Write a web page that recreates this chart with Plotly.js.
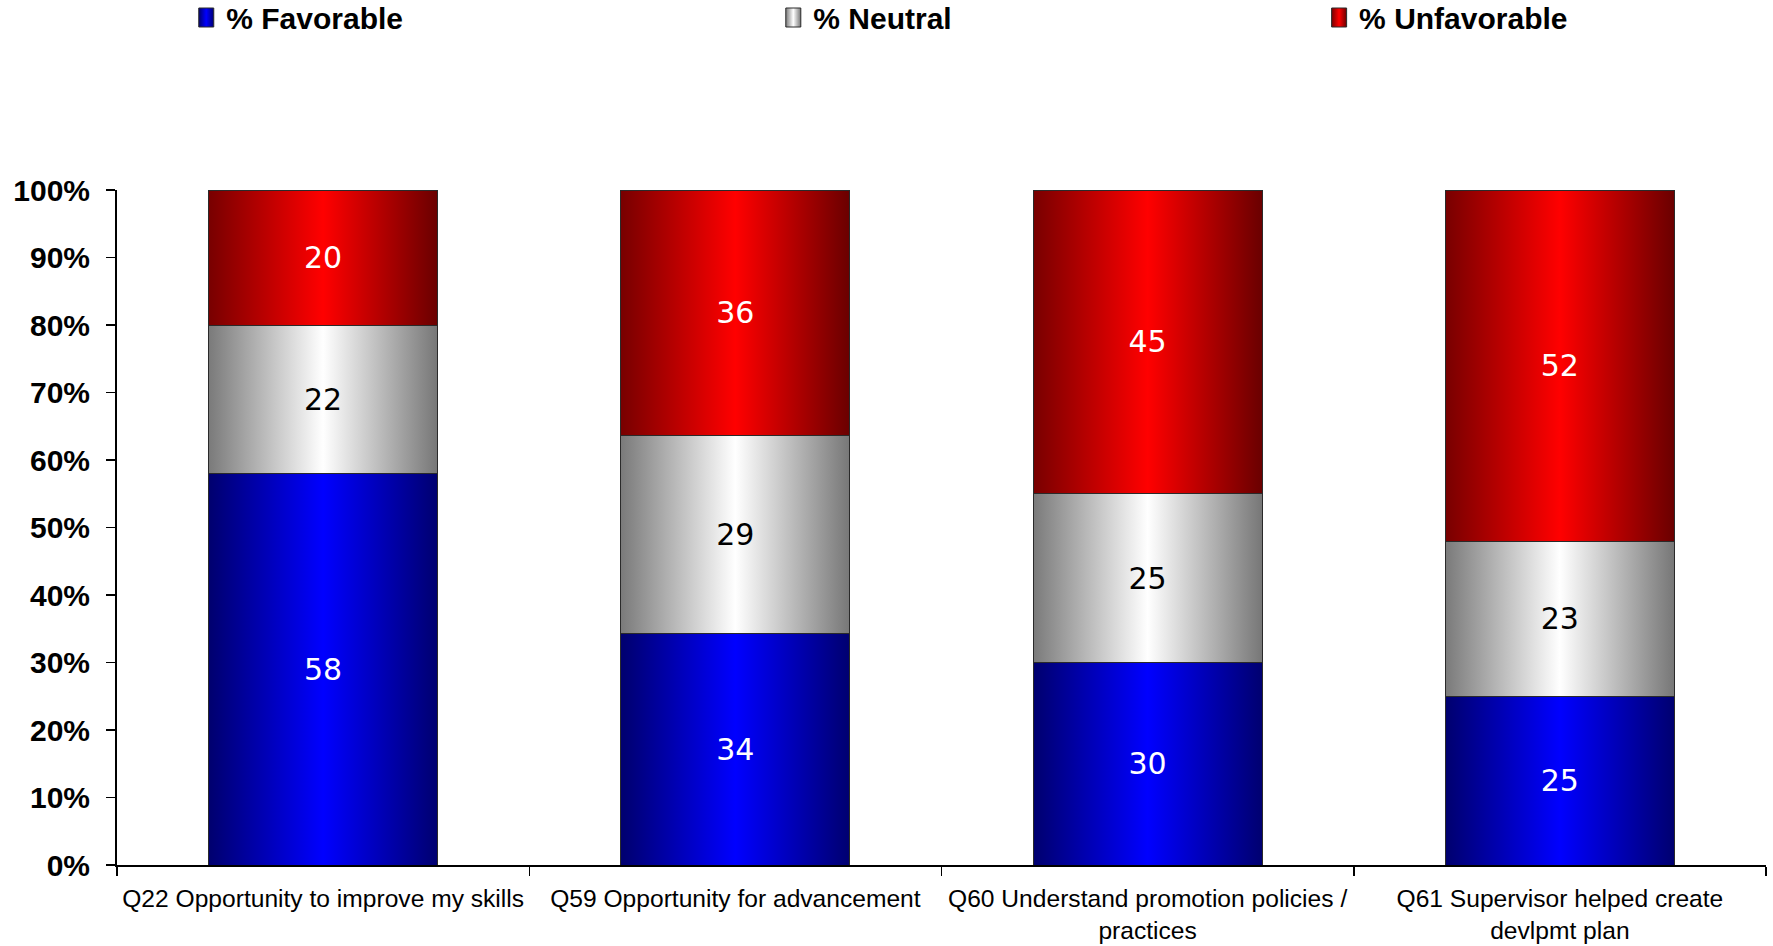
<!DOCTYPE html>
<html>
<head>
<meta charset="utf-8">
<script src="https://cdn.plot.ly/plotly-3.0.1.min.js"></script>
<style>
  html, body { margin: 0; padding: 0; background: #ffffff; }
  #chart { width: 1773px; height: 946px; }
</style>
</head>
<body>
<div id="chart"></div>
<script>
// Survey items and response shares
const questions = [
  'Q22 Opportunity to improve my skills',
  'Q59 Opportunity for advancement',
  'Q60 Understand promotion policies /<br>practices',
  'Q61 Supervisor helped create<br>devlpmt plan'
];
const favorable   = [58, 34, 30, 25];
const neutral     = [22, 29, 25, 23];
const unfavorable = [20, 36, 45, 52];
const seriesNames = ['% Favorable', '% Neutral', '% Unfavorable'];
const yTickVals   = [0, 10, 20, 30, 40, 50, 60, 70, 80, 90, 100];
const yTickText   = yTickVals.map(v => v + '%');

// Horizontal "cylinder" shading for each series: [offset, colour]
const shading = [
  { id: 'grad-fav',   stops: [[0, '#00006e'], [0.5, '#0000ff'], [1, '#000070']] },
  { id: 'grad-neu',   stops: [[0, '#7a7a7a'], [0.5, '#ffffff'], [1, '#777777']] },
  { id: 'grad-unfav', stops: [[0, '#780000'], [0.5, '#ff0000'], [1, '#6a0000']] }
];

const baseColors = ['#0000ff', '#d8d8d8', '#ff0000'];
const labelColors = ['#ffffff', '#000000', '#ffffff'];
const legendIds = ['legend', 'legend2', 'legend3'];
const seriesValues = [favorable, neutral, unfavorable];

const traces = seriesValues.map((vals, i) => ({
  type: 'bar',
  name: seriesNames[i],
  x: questions,
  y: vals,
  text: vals.map(String),
  textposition: 'inside',
  insidetextanchor: 'middle',
  textangle: 0,
  insidetextfont: { family: 'DejaVu Sans', size: 30, color: labelColors[i] },
  marker: { color: baseColors[i], line: { color: '#2a2a2a', width: 1 } },
  legend: legendIds[i],
  hoverinfo: 'skip'
}));

const legendFont = { family: 'Liberation Sans', size: 30, weight: 'bold', color: '#000000' };
const legendY = 1 + 172.5 / 675;
function legendAt(x) {
  return {
    x: x, y: legendY, xanchor: 'left', yanchor: 'middle',
    orientation: 'h', font: legendFont, bgcolor: 'rgba(0,0,0,0)',
    borderwidth: 0, itemclick: false, itemdoubleclick: false
  };
}

const layout = {
  width: 1773,
  height: 946,
  paper_bgcolor: '#ffffff',
  plot_bgcolor: '#ffffff',
  margin: { l: 116.5, r: 6.5, t: 190, b: 81, autoexpand: false },
  barmode: 'stack',
  barnorm: 'percent',
  bargap: 0.445,
  showlegend: true,
  legend: legendAt(0.042),
  legend2: legendAt(0.398),
  legend3: legendAt(0.729),
  xaxis: {
    type: 'category',
    showline: true, linecolor: '#000000', linewidth: 2,
    ticks: 'outside', ticklen: 9, tickwidth: 1.5, tickcolor: '#000000',
    tickson: 'boundaries',
    tickangle: 0,
    showgrid: false, zeroline: false,
    ticklabelstandoff: 10,
    automargin: false,
    tickfont: { family: 'Liberation Sans', size: 24.6, color: '#000000' }
  },
  yaxis: {
    range: [0, 100],
    tickvals: yTickVals, ticktext: yTickText,
    showline: true, linecolor: '#000000', linewidth: 2,
    ticks: 'outside', ticklen: 9, tickwidth: 1.5, tickcolor: '#000000',
    showgrid: false, zeroline: false,
    ticklabelstandoff: 10,
    automargin: false,
    tickfont: { family: 'Liberation Sans', size: 30, weight: 'bold', color: '#000000' }
  }
};

const gd = document.getElementById('chart');

// Add the shading gradients and point the bar and legend fills at them
function applyShading() {
  const svg = gd.querySelector('svg.main-svg');
  if (!svg) return;
  const ns = 'http://www.w3.org/2000/svg';
  if (!document.getElementById('bar-shading-defs')) {
    const defs = document.createElementNS(ns, 'defs');
    defs.setAttribute('id', 'bar-shading-defs');
    shading.forEach(g => {
      const lg = document.createElementNS(ns, 'linearGradient');
      lg.setAttribute('id', g.id);
      lg.setAttribute('x1', '0'); lg.setAttribute('y1', '0');
      lg.setAttribute('x2', '1'); lg.setAttribute('y2', '0');
      g.stops.forEach(s => {
        const st = document.createElementNS(ns, 'stop');
        st.setAttribute('offset', s[0]);
        st.setAttribute('stop-color', s[1]);
        lg.appendChild(st);
      });
      defs.appendChild(lg);
    });
    svg.insertBefore(defs, svg.firstChild);
  }
  gd.querySelectorAll('.barlayer .trace.bars').forEach((tr, i) => {
    const cd = tr.__data__;
    const idx = (cd && cd[0] && cd[0].trace) ? cd[0].trace.index : i;
    tr.querySelectorAll('.point path').forEach(p => {
      p.style.fill = 'url(#' + shading[idx].id + ')';
    });
  });
  gd.querySelectorAll('.legend .traces, g[class^="legend"] .traces').forEach((tr, i) => {
    const d = tr.__data__;
    const idx = (d && d[0] && d[0].trace) ? d[0].trace.index : i % 3;
    tr.querySelectorAll('.legendpoints path').forEach(p => {
      p.setAttribute('d', 'M7.5,9.5H-7.5V-9.5H7.5Z');
      p.style.fill = 'url(#' + shading[idx].id + ')';
    });
  });
}

Plotly.newPlot(gd, traces, layout, { staticPlot: true, displayModeBar: false }).then(() => {
  applyShading();
  gd.on('plotly_afterplot', applyShading);
});
</script>
</body>
</html>
